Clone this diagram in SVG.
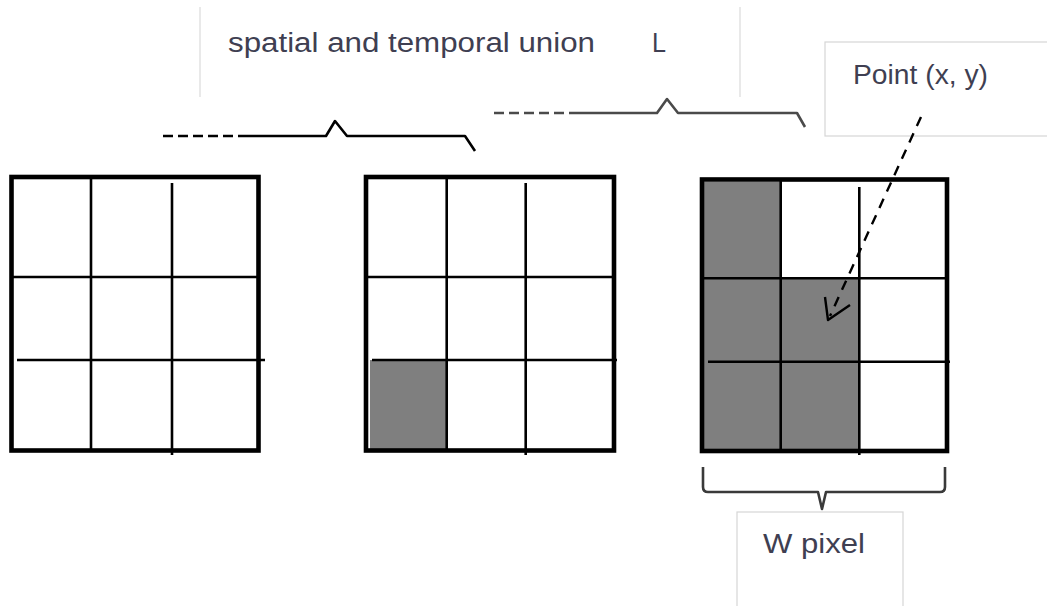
<svg xmlns="http://www.w3.org/2000/svg" width="1047" height="606" viewBox="0 0 1047 606">
  <style>
    .label { font-family: "Liberation Sans", Arial, sans-serif; font-size: 27px; fill: #3f3f52; }
    .frame { fill: none; stroke: #000; stroke-width: 4.6; }
    .grid { stroke: #000; stroke-width: 2.6; fill: none; }
    .cell { fill: #7f7f7f; }
    .box { fill: #fff; stroke: #d6d6d6; stroke-width: 1.2; }
    .brace { fill: none; stroke-width: 2.6; stroke-linejoin: round; }
    .dash { stroke-dasharray: 10 5; }
  </style>

  <rect width="1047" height="606" fill="#fff"/>

  <!-- title text block with faint side rules -->
  <g id="title">
    <line x1="200" y1="7" x2="200" y2="97" stroke="#e2e2e2" stroke-width="1.5"/>
    <line x1="740" y1="7" x2="740" y2="97" stroke="#e2e2e2" stroke-width="1.5"/>
    <text class="label" x="228" y="52" textLength="367" lengthAdjust="spacingAndGlyphs">spatial and temporal union</text>
    <text class="label" x="652" y="52" textLength="14" lengthAdjust="spacingAndGlyphs">L</text>
  </g>

  <!-- grid 1: empty -->
  <g id="grid1">
    <rect class="frame" x="11.5" y="177" width="247" height="273.5"/>
    <line class="grid" x1="91" y1="177" x2="91" y2="451"/>
    <line class="grid" x1="172" y1="183" x2="172" y2="455"/>
    <line class="grid" x1="11" y1="277" x2="259" y2="277"/>
    <line class="grid" x1="17" y1="360" x2="265" y2="360"/>
  </g>

  <!-- grid 2: one filled cell -->
  <g id="grid2">
    <rect class="cell" x="370" y="360" width="76" height="89"/>
    <rect class="frame" x="366" y="177" width="248" height="273.5"/>
    <line class="grid" x1="446.7" y1="177" x2="446.7" y2="451"/>
    <line class="grid" x1="525.7" y1="183" x2="525.7" y2="455"/>
    <line class="grid" x1="366" y1="277" x2="614" y2="277"/>
    <line class="grid" x1="372" y1="360" x2="617" y2="360"/>
  </g>

  <!-- grid 3: filled L-shaped block -->
  <g id="grid3">
    <rect class="cell" x="703" y="182" width="78" height="267"/>
    <rect class="cell" x="780" y="278" width="79" height="171"/>
    <rect class="frame" x="702" y="179.5" width="245" height="271.5"/>
    <line class="grid" x1="780.7" y1="179" x2="780.7" y2="451"/>
    <line class="grid" x1="859.3" y1="187" x2="859.3" y2="455"/>
    <line class="grid" x1="702" y1="278.3" x2="947" y2="278.3"/>
    <line class="grid" x1="708" y1="361.7" x2="950" y2="361.7"/>
  </g>

  <!-- point label -->
  <g id="point-label">
    <rect class="box" x="825" y="42" width="225" height="94"/>
    <text class="label" x="853" y="84" textLength="135" lengthAdjust="spacingAndGlyphs">Point (x, y)</text>
  </g>

  <!-- width label -->
  <g id="width-label">
    <rect class="box" x="737" y="512" width="166" height="95"/>
    <text class="label" x="763" y="553" textLength="102" lengthAdjust="spacingAndGlyphs">W pixel</text>
  </g>

  <g id="connectors">
    <!-- brace over the first pair of grids -->
    <line class="brace dash" x1="163" y1="136" x2="243" y2="136" stroke="#000"/>
    <path class="brace" stroke="#000" d="M243 136 H326 L335 121 L347 136 H465 L475 151"/>

    <!-- brace over the second pair of grids -->
    <line class="brace dash" x1="494" y1="113" x2="572" y2="113" stroke="#4a4a4a"/>
    <path class="brace" stroke="#4a4a4a" d="M572 113 H657 L667 99 L678 113 H797 L805 127"/>

    <!-- brace under grid 3 -->
    <path class="brace" stroke="#3a3a3a" stroke-width="2.2" d="M703 467 V487 Q703 492 708 492 H818 L822 509 L826 492 H940 Q945 492 945 487 V467"/>

    <!-- dashed pointer to the point -->
    <line x1="921" y1="117" x2="830" y2="316" stroke="#000" stroke-width="2.4" stroke-dasharray="10 8"/>
    <path d="M825 297 L828 320 L850 305" fill="none" stroke="#000" stroke-width="2.4" stroke-linejoin="round"/>
  </g>
</svg>
